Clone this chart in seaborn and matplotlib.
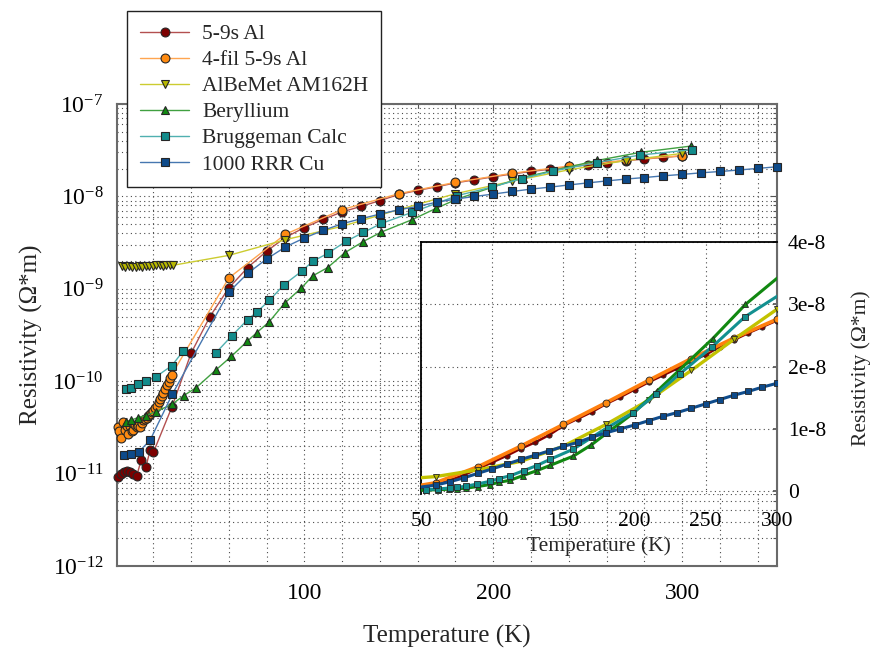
import math
import matplotlib
matplotlib.use("Agg")
import matplotlib.pyplot as plt
from matplotlib.ticker import (LogLocator, MultipleLocator, FixedLocator,
                               FuncFormatter, NullFormatter)
import seaborn as sns

# ---------------- measured resistivity data (T in K, rho in Ohm*m) ----------------
alu_T = [1.6, 3.2, 4.6, 6.0, 7.8, 9.5, 11.3, 13.6, 16.1, 18.4, 20.1, 29.8,
         40, 50, 60, 70, 80, 90, 100, 110, 120, 130, 140, 150, 160, 170, 180,
         190, 200, 210, 220, 230, 240, 250, 260, 270, 280, 290, 300]
alu_rho = [9.1e-12, 9.8e-12, 1.03e-11, 1.07e-11, 1.05e-11, 9.9e-12, 9.5e-12,
           1.4e-11, 1.18e-11, 1.8e-11, 1.7e-11, 5.2e-11,
           2.0e-10, 5.0e-10, 1.02e-9, 1.7e-9, 2.55e-9, 3.6e-9, 4.6e-9, 5.65e-9,
           6.8e-9, 7.8e-9, 9.0e-9, 1.05e-8, 1.16e-8, 1.27e-8, 1.40e-8, 1.51e-8,
           1.63e-8, 1.75e-8, 1.86e-8, 1.97e-8, 2.09e-8, 2.19e-8, 2.32e-8,
           2.43e-8, 2.54e-8, 2.64e-8, 2.74e-8]

fil_T = [1.6, 2.1, 3.0, 4.2, 5.1, 6.0, 6.9, 7.8, 8.7, 9.5, 10.4, 11.3, 12.2,
         13.1, 14.0, 14.8, 15.7, 16.6, 17.5, 18.4, 19.3, 20.1, 21.0, 21.9,
         22.8, 23.7, 24.5, 25.4, 26.3, 27.2, 28.1, 28.9, 29.8,
         60, 90, 120, 150, 180, 210, 240, 270, 300]
fil_rho = [3.2e-11, 2.9e-11, 2.4e-11, 3.6e-11, 3.0e-11, 3.3e-11, 2.7e-11,
           3.3e-11, 2.9e-11, 3.0e-11, 3.4e-11, 3.2e-11, 3.3e-11, 3.2e-11,
           3.5e-11, 3.8e-11, 3.9e-11, 4.0e-11, 4.2e-11, 4.4e-11, 4.6e-11,
           4.8e-11, 5.1e-11, 5.4e-11, 5.9e-11, 6.4e-11, 6.9e-11, 7.5e-11,
           8.2e-11, 9.0e-11, 9.9e-11, 1.08e-10, 1.18e-10,
           1.31e-9, 3.9e-9, 7.2e-9, 1.07e-8, 1.42e-8, 1.78e-8, 2.13e-8,
           2.46e-8, 2.76e-8]

albemet_T = [3.4, 5.2, 7.0, 8.9, 10.7, 12.5, 14.3, 16.1, 17.9, 19.7, 21.6,
             23.4, 25.2, 27.0, 28.8, 30.7,
             60, 90, 120, 150, 180, 210, 240, 270, 300]
albemet_rho = [1.76e-9, 1.72e-9, 1.75e-9, 1.71e-9, 1.74e-9, 1.77e-9, 1.73e-9,
               1.76e-9, 1.78e-9, 1.75e-9, 1.79e-9, 1.81e-9, 1.78e-9, 1.80e-9,
               1.82e-9, 1.80e-9,
               2.3e-9, 3.4e-9, 4.75e-9, 7.2e-9, 1.07e-8, 1.46e-8, 1.94e-8,
               2.44e-8, 2.92e-8]

be_T = [5.7, 8.3, 11.8, 16.1, 21.5, 29.8, 36.2, 42.7, 53.1, 61.4, 69.8, 74.8,
        81.4, 89.6, 98.4, 104.4, 112.4, 121.3, 131.2, 140.6, 157.0, 169.6,
        180.5, 199.1, 215.6, 255.0, 278.0, 304.4]
be_rho = [3.66e-11, 3.8e-11, 4.02e-11, 4.25e-11, 4.7e-11, 5.6e-11, 7.0e-11,
          8.5e-11, 1.32e-10, 1.86e-10, 2.71e-10, 3.35e-10, 4.4e-10, 7.0e-10,
          1.02e-9, 1.38e-9, 1.7e-9, 2.45e-9, 3.25e-9, 4.1e-9, 5.6e-9, 7.4e-9,
          9.3e-9, 1.25e-8, 1.6e-8, 2.45e-8, 3.0e-8, 3.5e-8]

# Bruggeman estimate has a gap between the two computed ranges
brug_low_T = [5.7, 8.3, 11.8, 16.1, 21.5, 29.8, 36.0]
brug_low_rho = [8.3e-11, 8.5e-11, 9.3e-11, 1.0e-10, 1.12e-10, 1.47e-10, 2.14e-10]
brug_high_T = [53.1, 61.6, 70.0, 74.8, 81.5, 89.3, 98.6, 104.4, 112.7, 122.0,
               131.2, 140.8, 156.8, 181.0, 199.1, 215.4, 231.7, 254.7, 277.6,
               305.0]
brug_high_rho = [2.02e-10, 3.1e-10, 4.65e-10, 5.6e-10, 7.5e-10, 1.11e-9,
                 1.55e-9, 1.98e-9, 2.44e-9, 3.26e-9, 4.07e-9, 5.1e-9, 6.7e-9,
                 1.02e-8, 1.26e-8, 1.56e-8, 1.88e-8, 2.32e-8, 2.8e-8, 3.2e-8]

cu_T = [4.4, 8.2, 12.3, 18.4, 30.2, 60, 70, 80, 90, 100, 110, 120, 130, 140,
        150, 160, 170, 180, 190, 200, 210, 220, 230, 240, 250, 260, 270, 280,
        290, 300, 310, 320, 330, 340, 350]
cu_rho = [1.59e-11, 1.65e-11, 1.71e-11, 2.31e-11, 7.3e-11, 9.2e-10, 1.47e-9,
          2.1e-9, 2.84e-9, 3.55e-9, 4.29e-9, 5.06e-9, 5.73e-9, 6.44e-9,
          7.16e-9, 7.8e-9, 8.65e-9, 9.35e-9, 9.98e-9, 1.06e-8, 1.13e-8,
          1.2e-8, 1.26e-8, 1.33e-8, 1.4e-8, 1.47e-8, 1.54e-8, 1.6e-8, 1.67e-8,
          1.73e-8, 1.8e-8, 1.86e-8, 1.93e-8, 2.01e-8, 2.09e-8]

series_labels = ["5-9s Al", "4-fil 5-9s Al", "AlBeMet AM162H", "Beryllium",
                 "Bruggeman Calc", "1000 RRR Cu"]
y_decades = [-12, -11, -10, -9, -8, -7]
inset_yticks = [0, 1e-8, 2e-8, 3e-8, 4e-8]
inset_ylabels = ["0", "1e-8", "2e-8", "3e-8", "4e-8"]
inset_xticks = [50, 100, 150, 200, 250, 300]

# ---------------- styling ----------------
sns.set_theme(style="white")
plt.rcParams["font.family"] = ["Liberation Serif", "DejaVu Serif"]
plt.rcParams["mathtext.default"] = "regular"
plt.rcParams["axes.unicode_minus"] = False

styles = [
    dict(marker="o", face="#7d0000", line="#b35050", iline="#8a0000", ims=3.8, ilw=1.8),
    dict(marker="o", face="#ff8a10", line="#ffa550", iline="#ff7f0e", ims=5.0, ilw=2.6),
    dict(marker="v", face="#b8b800", line="#cccc30", iline="#c2c200", ims=5.0, ilw=2.4),
    dict(marker="^", face="#128a12", line="#40a040", iline="#118811", ims=4.6, ilw=2.2),
    dict(marker="s", face="#128c8c", line="#50b0b0", iline="#139090", ims=4.4, ilw=2.2),
    dict(marker="s", face="#0d4a8a", line="#4677b0", iline="#0f4c8c", ims=4.4, ilw=2.2),
]
edge = "#262626"

fig = plt.figure(figsize=(8.71, 6.5), dpi=100)
ax = fig.add_axes([0.1347, 0.1292, 0.7570, 0.7108])
ax_in = fig.add_axes([0.4837, 0.2400, 0.4080, 0.3872])

datasets = [
    [(alu_T, alu_rho)],
    [(fil_T, fil_rho)],
    [(albemet_T, albemet_rho)],
    [(be_T, be_rho)],
    [(brug_low_T, brug_low_rho), (brug_high_T, brug_high_rho)],
    [(cu_T, cu_rho)],
]

handles = []
for label, parts, st in zip(series_labels, datasets, styles):
    for i, (T, rho) in enumerate(parts):
        sns.lineplot(x=T, y=rho, ax=ax, estimator=None, sort=False,
                     color=st["line"], linewidth=1.0, marker=st["marker"],
                     markersize=6.4, markerfacecolor=st["face"],
                     markeredgecolor=edge, markeredgewidth=0.8,
                     legend=False, clip_on=False, zorder=3)
        if i == 0:
            handles.append(ax.lines[-1])
        sns.lineplot(x=T, y=rho, ax=ax_in, estimator=None, sort=False,
                     color=st["iline"], linewidth=st["ilw"], marker=st["marker"],
                     markersize=st["ims"], markerfacecolor=st["face"],
                     markeredgecolor=edge, markeredgewidth=0.6,
                     legend=False, zorder=3)

# ---------------- main axes ----------------
ax.set_yscale("log")
ax.set_xlim(1, 350)
ax.set_ylim(1e-12, 1e-7)
ax.xaxis.set_major_locator(FixedLocator([100, 200, 300]))
ax.xaxis.set_minor_locator(MultipleLocator(20))
ax.yaxis.set_major_locator(FixedLocator([10.0 ** d for d in y_decades]))
ax.yaxis.set_minor_locator(LogLocator(base=10, subs=range(2, 10)))
ax.yaxis.set_minor_formatter(NullFormatter())
ax.yaxis.set_major_formatter(FuncFormatter(
    lambda v, p: r"$\mathregular{10^{%d}}$" % round(math.log10(v))))
ax.tick_params(which="both", direction="in", top=True, right=True,
               colors="#555555", labelcolor="black")
ax.tick_params(which="major", length=5, width=0.8, labelsize=17, pad=10)
ax.tick_params(axis="x", which="major", pad=12)
ax.tick_params(which="minor", length=3, width=0.8)
ax.grid(which="both", linestyle=(0, (1, 3)), color="#4a4a4a", linewidth=0.8)
for s in ax.spines.values():
    s.set_color("#6a6a6a")
    s.set_linewidth(1.5)
ax.set_xlabel("Temperature (K)", fontsize=18, labelpad=15)
ax.set_ylabel("Resistivity (Ω*m)", fontsize=18, labelpad=7)
ax.set_facecolor("white")

# ---------------- inset (linear scale) ----------------
ax_in.set_facecolor("white")
ax_in.set_xlim(50, 300)
ax_in.set_ylim(-0.05e-8, 4e-8)
ax_in.set_xticks(inset_xticks)
ax_in.set_yticks(inset_yticks)
ax_in.set_yticklabels(inset_ylabels)
ax_in.yaxis.tick_right()
ax_in.yaxis.set_label_position("right")
ax_in.tick_params(direction="in", length=3, labelsize=15.5, pad=8,
                  colors="#555555", labelcolor="black")
ax_in.tick_params(axis="x", pad=13)
ax_in.grid(True, linestyle=(0, (1, 3)), color="#4a4a4a", linewidth=0.8)
for name in ("left", "top"):
    ax_in.spines[name].set_color("black")
    ax_in.spines[name].set_linewidth(1.3)
ax_in.spines["right"].set_color("#6a6a6a")
ax_in.spines["right"].set_linewidth(1.5)
ax_in.spines["bottom"].set_visible(False)
ax_in.set_xlabel("Temperature (K)", fontsize=15.5, labelpad=4)
ax_in.set_ylabel("Resistivity (Ω*m)", fontsize=15.5, labelpad=18)

# ---------------- legend ----------------
leg = fig.legend(handles, series_labels, loc="upper left",
                 bbox_to_anchor=(0.1458, 0.983), bbox_transform=fig.transFigure,
                 borderaxespad=0.0,
                 fontsize=15.5, frameon=True, fancybox=False, framealpha=1,
                 edgecolor="#222222", facecolor="white", handlelength=2.3,
                 handletextpad=0.6, labelspacing=0.28, borderpad=0.6)
leg.get_frame().set_linewidth(1.0)

fig.savefig("out.png", dpi=100)
